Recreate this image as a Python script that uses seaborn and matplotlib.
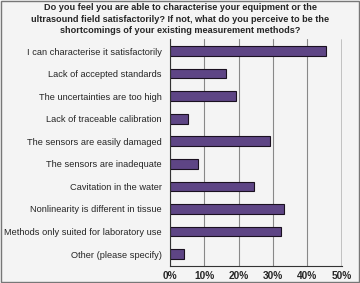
import numpy as np
import pandas as pd
import matplotlib
matplotlib.use("Agg")
import matplotlib.pyplot as plt
import seaborn as sns

# survey answers and share of respondents (%)
categories = [
    "I can characterise it satisfactorily",
    "Lack of accepted standards",
    "The uncertainties are too high",
    "Lack of traceable calibration",
    "The sensors are easily damaged",
    "The sensors are inadequate",
    "Cavitation in the water",
    "Nonlinearity is different in tissue",
    "Methods only suited for laboratory use",
    "Other (please specify)",
]
percent = [45.5, 16.2, 19.2, 5.2, 29.2, 8.1, 24.4, 33.3, 32.3, 4.0]
xticks = [0, 10, 20, 30, 40, 50]

title = ("Do you feel you are able to characterise your equipment or the\n"
         "ultrasound field satisfactorily? If not, what do you perceive to be the\n"
         "shortcomings of your existing measurement methods?")

df = pd.DataFrame({"answer": categories, "pct": percent})

sns.set_style("white")
plt.rcParams["font.family"] = ["Liberation Sans", "DejaVu Sans"]

bg = "#f4f4f4"
fig = plt.figure(figsize=(3.6, 2.83), dpi=100, facecolor=bg)
ax = fig.add_axes([0.472, 0.06, 0.477, 0.802])
ax.set_facecolor(bg)

sns.barplot(data=df, x="pct", y="answer", orient="h", color="#5e4585",
            saturation=1, width=0.43, edgecolor="#1a1020", linewidth=0.8, ax=ax)

ax.set_xlim(0, 50)
ax.set_ylim(len(categories) - 0.47, -0.53)
ax.set_xticks(xticks)
ax.set_xticklabels([f"{t}%" for t in xticks], fontsize=7.3, fontweight="bold")
ax.tick_params(axis="x", length=0, pad=3.5)
ax.tick_params(axis="y", length=0, labelsize=6.7, pad=6)
ax.set_yticks(np.arange(len(categories) + 1) - 0.5, minor=True)
ax.tick_params(axis="y", which="minor", length=3, width=0.6, color="#555555")
ax.set_xlabel("")
ax.set_ylabel("")

ax.grid(axis="x", color="#888888", linewidth=0.8)
ax.set_axisbelow(True)
for s in ["top", "right"]:
    ax.spines[s].set_visible(False)
ax.spines["left"].set_color("#333333")
ax.spines["bottom"].set_color("#333333")
ax.axvline(50, color="#111111", linewidth=1)

fig.text(0.5, 0.988, title, ha="center", va="top", fontsize=6.6,
         fontweight="bold", linespacing=1.35)

# thin grey frame round the picture
fig.patches.append(plt.Rectangle((0.0015, 0.002), 0.997, 0.996, transform=fig.transFigure,
                                 fill=False, edgecolor="#777777", linewidth=1))

fig.savefig("out.png", dpi=100, facecolor=bg)
